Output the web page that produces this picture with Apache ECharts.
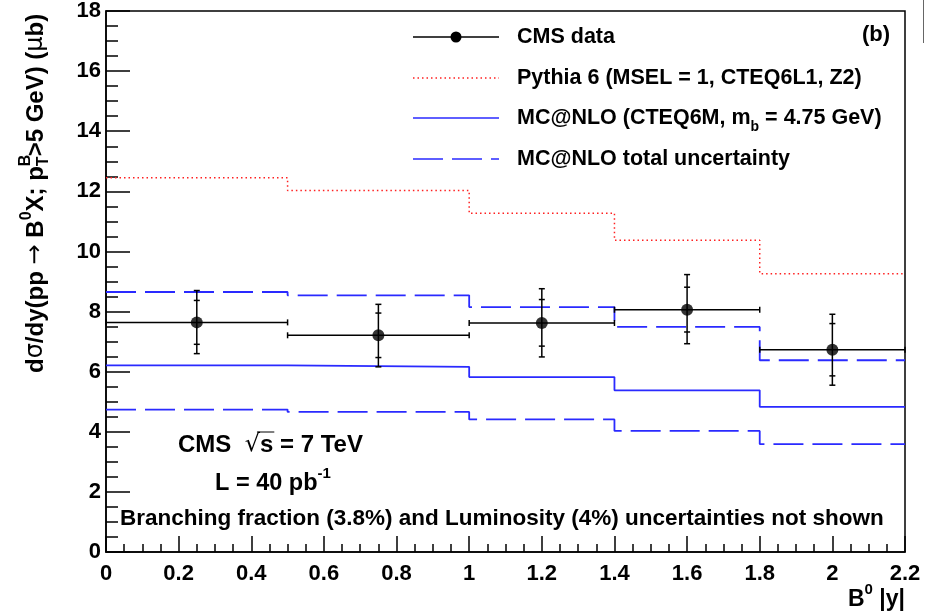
<!DOCTYPE html>
<html>
<head>
<meta charset="utf-8">
<script src="https://cdn.jsdelivr.net/npm/echarts@6/dist/echarts.min.js"></script>
<style>
  html, body { margin: 0; padding: 0; background: #fff; }
  #chart { width: 935px; height: 613px; }
</style>
</head>
<body>
<div id="chart"></div>
<script>
// bin edges in B0 |y|
const binEdges = [0, 0.5, 1.0, 1.4, 1.8, 2.2];
// theory predictions per bin (μb)
const pythia = [12.45, 12.03, 11.27, 10.37, 9.26];
const mcnlo = [6.21, 6.16, 5.82, 5.38, 4.83];
const mcnloUp = [8.65, 8.54, 8.15, 7.49, 6.38];
const mcnloDown = [4.74, 4.66, 4.41, 4.03, 3.59];
// CMS data points and error bar ends (stat inner, total outer)
const dataX = [0.25, 0.75, 1.2, 1.6, 2.0];
const dataY = [7.64, 7.21, 7.62, 8.06, 6.73];
const statLo = [6.91, 6.47, 6.85, 7.32, 5.86];
const statHi = [8.37, 7.95, 8.40, 8.81, 7.60];
const totLo = [6.60, 6.16, 6.49, 6.93, 5.55];
const totHi = [8.70, 8.24, 8.76, 9.23, 7.91];
// axis ranges
const xRange = [0, 2.2, 0.2];
const yRange = [0, 18, 2];

const FONT = '"Liberation Sans", Arial, sans-serif';
const SYM = '"DejaVu Sans", sans-serif';
const BLUE = '#2a2aff';
const RED = '#ff2020';

// histogram outline for a step line
const steps = vals => binEdges.map((e, i) => [e, vals[Math.min(i, vals.length - 1)]]);

// text runs with sub/superscripts, measured with a canvas
const ctx = document.createElement('canvas').getContext('2d');
function fontOf(p, base) {
  return (p.weight || 'bold') + ' ' + (p.size || base) + 'px ' + (p.family || FONT);
}
function textRun(parts, opts) {
  const base = opts.size || 21;
  let cx = 0;
  const kids = [];
  parts.forEach(p => {
    const font = fontOf(p, base);
    ctx.font = font;
    const w = ctx.measureText(p.t).width;
    const x0 = cx + (p.dx || 0);
    kids.push({
      type: 'text', x: x0, y: p.dy || 0,
      style: { text: p.t, font: font, fill: '#000', align: 'left', verticalAlign: 'middle' }
    });
    if (p.overline !== undefined) {
      kids.push({
        type: 'line',
        shape: { x1: x0 - 3, y1: p.overline, x2: x0 + w + 1, y2: p.overline },
        style: { stroke: '#000', lineWidth: 1 }
      });
    }
    if (!p.stack) cx = x0 + w;
  });
  let x = opts.x;
  if (opts.align === 'right') x -= cx;
  if (opts.align === 'center') x -= cx / 2;
  const g = { type: 'group', x: x, y: opts.y, silent: true, children: kids };
  if (opts.rotation) g.rotation = opts.rotation;
  return g;
}

const graphics = [];

// y axis title
graphics.push(textRun([
  { t: 'd' }, { t: 'σ', weight: 'normal', family: SYM }, { t: '/dy(pp ' },
  { t: '→', weight: 'normal', family: SYM }, { t: ' B' }, { t: '0', size: 16, dy: -9 },
  { t: 'X; p' }, { t: 'B', size: 16, dy: -10, stack: true }, { t: 'T', size: 16, dy: 8 },
  { t: '>5 GeV) (' }, { t: 'μ', weight: 'normal', family: SYM }, { t: 'b)' }
], { x: 36, y: 373, rotation: Math.PI / 2, size: 24 }));

// x axis title
graphics.push(textRun([
  { t: 'B' }, { t: '0', size: 15, dy: -10 }, { t: ' |y|' }
], { x: 905, y: 600, align: 'right', size: 23 }));

// legend
const legendY = [37, 78, 118, 159];
const lx1 = 413, lx2 = 499, tx = 517;
graphics.push(
  { type: 'line', shape: { x1: lx1, y1: legendY[0], x2: lx2, y2: legendY[0] }, style: { stroke: '#000', lineWidth: 1.5 } },
  { type: 'circle', shape: { cx: 456, cy: legendY[0], r: 5.5 }, style: { fill: '#000' } },
  { type: 'line', shape: { x1: lx1, y1: legendY[1], x2: lx2, y2: legendY[1] }, style: { stroke: RED, lineWidth: 1.5, lineDash: [1.5, 3] } },
  { type: 'line', shape: { x1: lx1, y1: legendY[2], x2: lx2, y2: legendY[2] }, style: { stroke: BLUE, lineWidth: 1.5 } },
  { type: 'line', shape: { x1: lx1, y1: legendY[3], x2: lx2, y2: legendY[3] }, style: { stroke: BLUE, lineWidth: 1.5, lineDash: [30, 9] } }
);
graphics.push(textRun([{ t: 'CMS data' }], { x: tx, y: legendY[0], size: 21.5 }));
graphics.push(textRun([{ t: 'Pythia 6 (MSEL = 1, CTEQ6L1, Z2)' }], { x: tx, y: legendY[1], size: 21.5 }));
graphics.push(textRun([
  { t: 'MC@NLO (CTEQ6M, m' }, { t: 'b', size: 14, dy: 9 }, { t: ' = 4.75 GeV)' }
], { x: tx, y: legendY[2], size: 21.5 }));
graphics.push(textRun([{ t: 'MC@NLO total uncertainty' }], { x: tx, y: legendY[3], size: 21.5 }));
graphics.push(textRun([{ t: '(b)' }], { x: 890, y: 35, align: 'right', size: 22 }));

// labels inside the frame
graphics.push(textRun([
  { t: 'CMS  ' }, { t: '√', weight: 'normal', family: SYM }, { t: 's', overline: -13 }, { t: ' = 7 TeV' }
], { x: 178, y: 445, size: 24 }));
graphics.push(textRun([
  { t: 'L = 40 pb' }, { t: '-1', size: 15, dy: -10 }
], { x: 215, y: 484, size: 23.5 }));
graphics.push(textRun([
  { t: 'Branching fraction (3.8%) and Luminosity (4%) uncertainties not shown' }
], { x: 120, y: 519, size: 22.5 }));

// stray frame edge of the neighbouring panel
graphics.push({ type: 'line', shape: { x1: 923.5, y1: 0, x2: 923.5, y2: 43 }, style: { stroke: '#666', lineWidth: 1 } });

const errData = dataX.map((x, i) => [x, binEdges[i], binEdges[i + 1], dataY[i], totLo[i], totHi[i], statLo[i], statHi[i]]);

function renderErr(params, api) {
  const x = api.value(0), y = api.value(3);
  const p = api.coord([x, y]);
  const l = api.coord([api.value(1), y])[0];
  const r = api.coord([api.value(2), y])[0];
  const ys = [4, 5, 6, 7].map(k => api.coord([x, api.value(k)])[1]);
  const seg = (x1, y1, x2, y2) => ({ type: 'line', shape: { x1, y1, x2, y2 }, style: { stroke: '#000', lineWidth: 1.5 } });
  const kids = [
    seg(l, p[1], r, p[1]),
    seg(l, p[1] - 3, l, p[1] + 3),
    seg(r, p[1] - 3, r, p[1] + 3),
    seg(p[0], ys[0], p[0], ys[1])
  ];
  ys.forEach(yy => kids.push(seg(p[0] - 3, yy, p[0] + 3, yy)));
  return { type: 'group', children: kids };
}

const chart = echarts.init(document.getElementById('chart'));

const axisLabel = { fontFamily: FONT, fontWeight: 'bold', fontSize: 22, color: '#000' };

chart.setOption({
  animation: false,
  backgroundColor: '#fff',
  grid: { left: 106, right: 30, top: 10, bottom: 61, show: true, borderColor: '#000', borderWidth: 1.5 },
  xAxis: {
    type: 'value', min: xRange[0], max: xRange[1], interval: xRange[2],
    axisLine: { lineStyle: { color: '#000', width: 1.5 } },
    axisTick: { inside: true, length: 16, lineStyle: { color: '#000', width: 1.5 } },
    minorTick: { show: true, splitNumber: 4, length: 8, lineStyle: { color: '#000', width: 1.5 } },
    splitLine: { show: false },
    axisLabel: Object.assign({ margin: 11, showMinLabel: true, showMaxLabel: true }, axisLabel)
  },
  yAxis: {
    type: 'value', min: yRange[0], max: yRange[1], interval: yRange[2],
    axisLine: { lineStyle: { color: '#000', width: 1.5 } },
    axisTick: { inside: true, length: 24, lineStyle: { color: '#000', width: 1.5 } },
    minorTick: { show: true, splitNumber: 4, length: 12, lineStyle: { color: '#000', width: 1.5 } },
    splitLine: { show: false },
    axisLabel: Object.assign({ margin: 5 }, axisLabel)
  },
  series: [
    {
      name: 'Pythia 6 (MSEL = 1, CTEQ6L1, Z2)', type: 'line', step: 'end', symbol: 'none',
      data: steps(pythia), lineStyle: { color: RED, width: 1.5, type: [1.5, 3] }
    },
    {
      name: 'MC@NLO (CTEQ6M, mb = 4.75 GeV)', type: 'line', step: 'end', symbol: 'none',
      data: steps(mcnlo), lineStyle: { color: BLUE, width: 1.8 }
    },
    {
      name: 'MC@NLO total uncertainty (up)', type: 'line', step: 'end', symbol: 'none',
      data: steps(mcnloUp), lineStyle: { color: BLUE, width: 1.8, type: [30, 9] }
    },
    {
      name: 'MC@NLO total uncertainty (down)', type: 'line', step: 'end', symbol: 'none',
      data: steps(mcnloDown), lineStyle: { color: BLUE, width: 1.8, type: [30, 9] }
    },
    {
      name: 'CMS data errors', type: 'custom', renderItem: renderErr,
      encode: { x: 0, y: 3 }, data: errData, z: 5
    },
    {
      name: 'CMS data', type: 'scatter', symbol: 'circle', symbolSize: 12,
      itemStyle: { color: '#000' }, z: 6,
      data: dataX.map((x, i) => [x, dataY[i]])
    }
  ],
  graphic: graphics
});
</script>
</body>
</html>
